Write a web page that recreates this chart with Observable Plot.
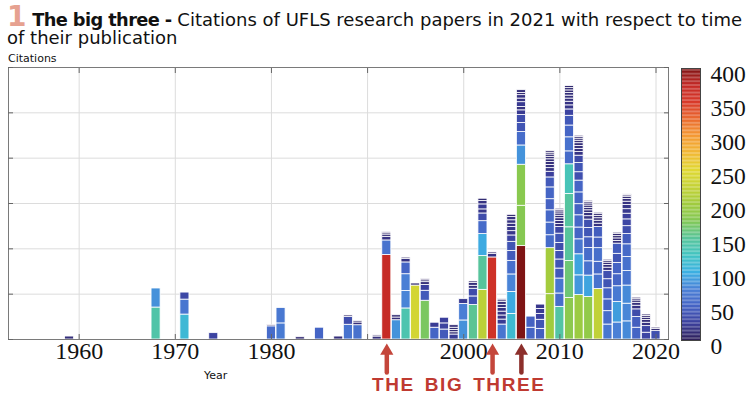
<!DOCTYPE html>
<html><head><meta charset="utf-8">
<script src="https://cdn.jsdelivr.net/npm/d3@7"></script>
<script src="https://cdn.jsdelivr.net/npm/@observablehq/plot@0.6"></script>
<style>
body{margin:0;background:#fff;}
#wrap{position:relative;width:754px;height:397px;overflow:hidden;font-family:"DejaVu Sans",sans-serif;}
#title{position:absolute;left:7px;top:8px;width:747px;font-size:18px;line-height:18px;color:#111;white-space:nowrap;}
#title .num{font-size:28px;font-weight:bold;color:#e6a190;line-height:18px;}
#title b{font-size:17.8px;letter-spacing:-0.6px;}
#ylab{position:absolute;left:8px;top:52px;font-size:11px;color:#111;}
#xlab{position:absolute;left:204px;top:369px;font-size:11px;color:#111;}
#big{position:absolute;left:372px;top:374px;font-family:"Liberation Sans",sans-serif;font-weight:bold;font-size:19px;color:#bf3a31;letter-spacing:1.6px;word-spacing:3px;}
#main{position:absolute;left:0;top:48px;}
#cbar{position:absolute;left:680px;top:48px;}
#main svg text{font-family:"Liberation Serif","Times New Roman",serif !important;font-size:24px !important;}
#cbar svg text{font-family:"Liberation Serif","Times New Roman",serif !important;font-size:23.5px !important;}
</style></head>
<body><div id="wrap">
<div id="title"><span class="num">1</span> <b>The big three -</b> Citations of UFLS research papers in 2021 with respect to time<br>of their publication</div>
<div id="ylab">Citations</div>
<div id="xlab">Year</div>
<div id="big">THE BIG THREE</div>
<div id="main"></div>
<div id="cbar"></div>
</div>
<script>
// ---- data ----
const years = [1959, 1968, 1970, 1971, 1974, 1980, 1981, 1983, 1985, 1987, 1988, 1989, 1991, 1992, 1993, 1994, 1995, 1996, 1997, 1998, 1999, 2000, 2001, 2002, 2003, 2004, 2005, 2006, 2007, 2008, 2009, 2010, 2011, 2012, 2013, 2014, 2015, 2016, 2017, 2018, 2019, 2020];
const paperCitations = [
  [13],
  [141, 84],
  [3],
  [110, 66, 31],
  [28],
  [58, 5],
  [71, 68],
  [10],
  [52],
  [13],
  [65, 35, 6],
  [63, 12, 6],
  [13, 5],
  [373, 64, 16, 10, 6, 5],
  [85, 12, 10],
  [137, 77, 74, 52, 15, 6],
  [238, 9],
  [171, 44, 26, 12, 8, 5],
  [52, 22],
  [44, 27, 25],
  [22, 10, 10, 10, 11],
  [84, 73, 21],
  [152, 38, 34, 13, 12, 7],
  [219, 149, 97, 57, 34, 18, 22, 15, 10],
  [362, 16, 6],
  [66, 22, 18, 17, 16, 14, 12, 8, 5],
  [113, 97, 77, 60, 44, 40, 28, 19, 18, 15, 15, 15, 9],
  [412, 178, 181, 85, 59, 40, 35, 21, 15, 21, 16, 15, 10, 12],
  [52, 49],
  [47, 40, 26, 22, 19],
  [200, 203, 57, 56, 54, 49, 52, 44, 25, 16, 14, 13, 12, 11, 10, 8, 7],
  [144, 59, 66, 44, 40, 38, 35, 41, 29, 14, 13, 12, 11, 10, 9, 7, 5],
  [183, 163, 149, 147, 131, 57, 62, 52, 43, 28, 18, 16, 14, 13, 12, 11, 10, 9],
  [196, 87, 93, 66, 52, 54, 49, 52, 52, 37, 41, 32, 16, 14, 13, 12, 11, 9, 8, 5],
  [188, 94, 63, 59, 47, 41, 37, 15, 14, 12, 11, 10, 9, 7, 5],
  [223, 64, 56, 60, 47, 46, 15, 13, 11, 10, 8, 6],
  [66, 59, 52, 49, 40, 37, 14, 12, 10, 8, 5],
  [75, 90, 70, 53, 50, 40, 45, 12, 11, 10, 9, 6],
  [80, 78, 80, 64, 62, 56, 45, 35, 30, 25, 20, 18, 15, 12, 10, 6, 4],
  [52, 47, 34, 16, 13, 10, 8, 5],
  [30, 29, 15, 12, 10, 8, 6],
  [37, 10, 6, 3]
];
const bigThree = [1992, 2003, 2006];
const xTicks = [1960, 1970, 1980, 1990, 2000, 2010, 2020];
const xTickLabels = ["1960", "1970", "1980", "", "2000", "2010", "2020"];
const yTicks = [0, 200, 400, 600, 800, 1000, 1200];
const colorTicks = [0, 50, 100, 150, 200, 250, 300, 350, 400];

// ---- styles ----
const colorStops = d3.range(0, 401, 25);
const colorRange = ["#2e1f58", "#3b3f9c", "#4563c4", "#4a80d6", "#3bb0e2", "#42c4c2", "#58c49a", "#82c855",
                    "#a0cb3e", "#c4d236", "#e0d832", "#f1b834", "#f49a33", "#ea6a2e", "#d8392a", "#c42a26", "#7e1414"];
const arrowColors = ["#c4463b", "#c4463b", "#8c2f2b"];

const table = years.flatMap((yr, i) => paperCitations[i].map((c, j) => ({year: yr, citations: c, order: j})));
const colorScale = {type: "linear", domain: colorStops, range: colorRange, clamp: true};

const arrowMarks = bigThree.flatMap((yr, i) => [
  Plot.vector([yr], {x: d => d, y: 0, anchor: "start", length: 18, dy: 33, stroke: arrowColors[i], strokeWidth: 4.5,
    shape: {draw(ctx, l) { ctx.moveTo(0, 0); ctx.lineTo(0, -l); }}}),
  Plot.dot([yr], {x: d => d, y: 0, symbol: "triangle", r: 4.9, dy: 11.5, fill: arrowColors[i], stroke: "none"})
]);

const main = Plot.plot({
  width: 754, height: 349,
  marginLeft: 8, marginRight: 86, marginTop: 19, marginBottom: 58,
  x: {domain: [1952.65, 2021.3]},
  y: {domain: [0, 1200]},
  color: colorScale,
  style: {background: "transparent", overflow: "visible"},
  marks: [
    Plot.gridX(xTicks, {stroke: "#dcdcdc", strokeOpacity: 1}),
    Plot.gridY(yTicks, {stroke: "#dcdcdc", strokeOpacity: 1}),
    Plot.rectY(table, Plot.stackY({x: "year", x1: d => d.year - 0.47, x2: d => d.year + 0.47, y: "citations", fill: "citations", stroke: "white", strokeWidth: 0.8})),
    Plot.frame({stroke: "#7a7a7a"}),
    Plot.axisX(xTicks, {anchor: "bottom", tickSize: 5, dy: -5, fill: "none", stroke: "#666"}),
    Plot.axisX(xTicks, {anchor: "top", tickSize: 5, dy: 5, fill: "none", stroke: "#666"}),
    Plot.axisY(yTicks, {anchor: "left", tickSize: 5, dx: 5, fill: "none", stroke: "#666"}),
    Plot.axisY(yTicks, {anchor: "right", tickSize: 5, dx: -5, fill: "none", stroke: "#666"}),
    Plot.axisX(xTicks, {anchor: "bottom", tickSize: 0, tickPadding: 2, tickFormat: d => xTickLabels[xTicks.indexOf(d)], fontSize: 24, fill: "#111", label: null}),
    ...arrowMarks
  ]
});
document.getElementById("main").appendChild(main);

const ramp = d3.range(0, 400, 2);
const cbar = Plot.plot({
  width: 74, height: 349,
  marginLeft: 1, marginRight: 54, marginTop: 20, marginBottom: 57,
  y: {domain: [0, 400]},
  color: colorScale,
  style: {background: "transparent", overflow: "visible"},
  marks: [
    Plot.rectY(ramp, {y1: d => d, y2: d => d + 2, fill: d => d + 1}),
    Plot.frame({stroke: "#444"}),
    Plot.axisY(colorTicks, {anchor: "right", tickSize: 0, tickPadding: 10, dy: 6, fontSize: 23.5, fill: "#111", label: null})
  ]
});
document.getElementById("cbar").appendChild(cbar);
</script>
</body></html>
